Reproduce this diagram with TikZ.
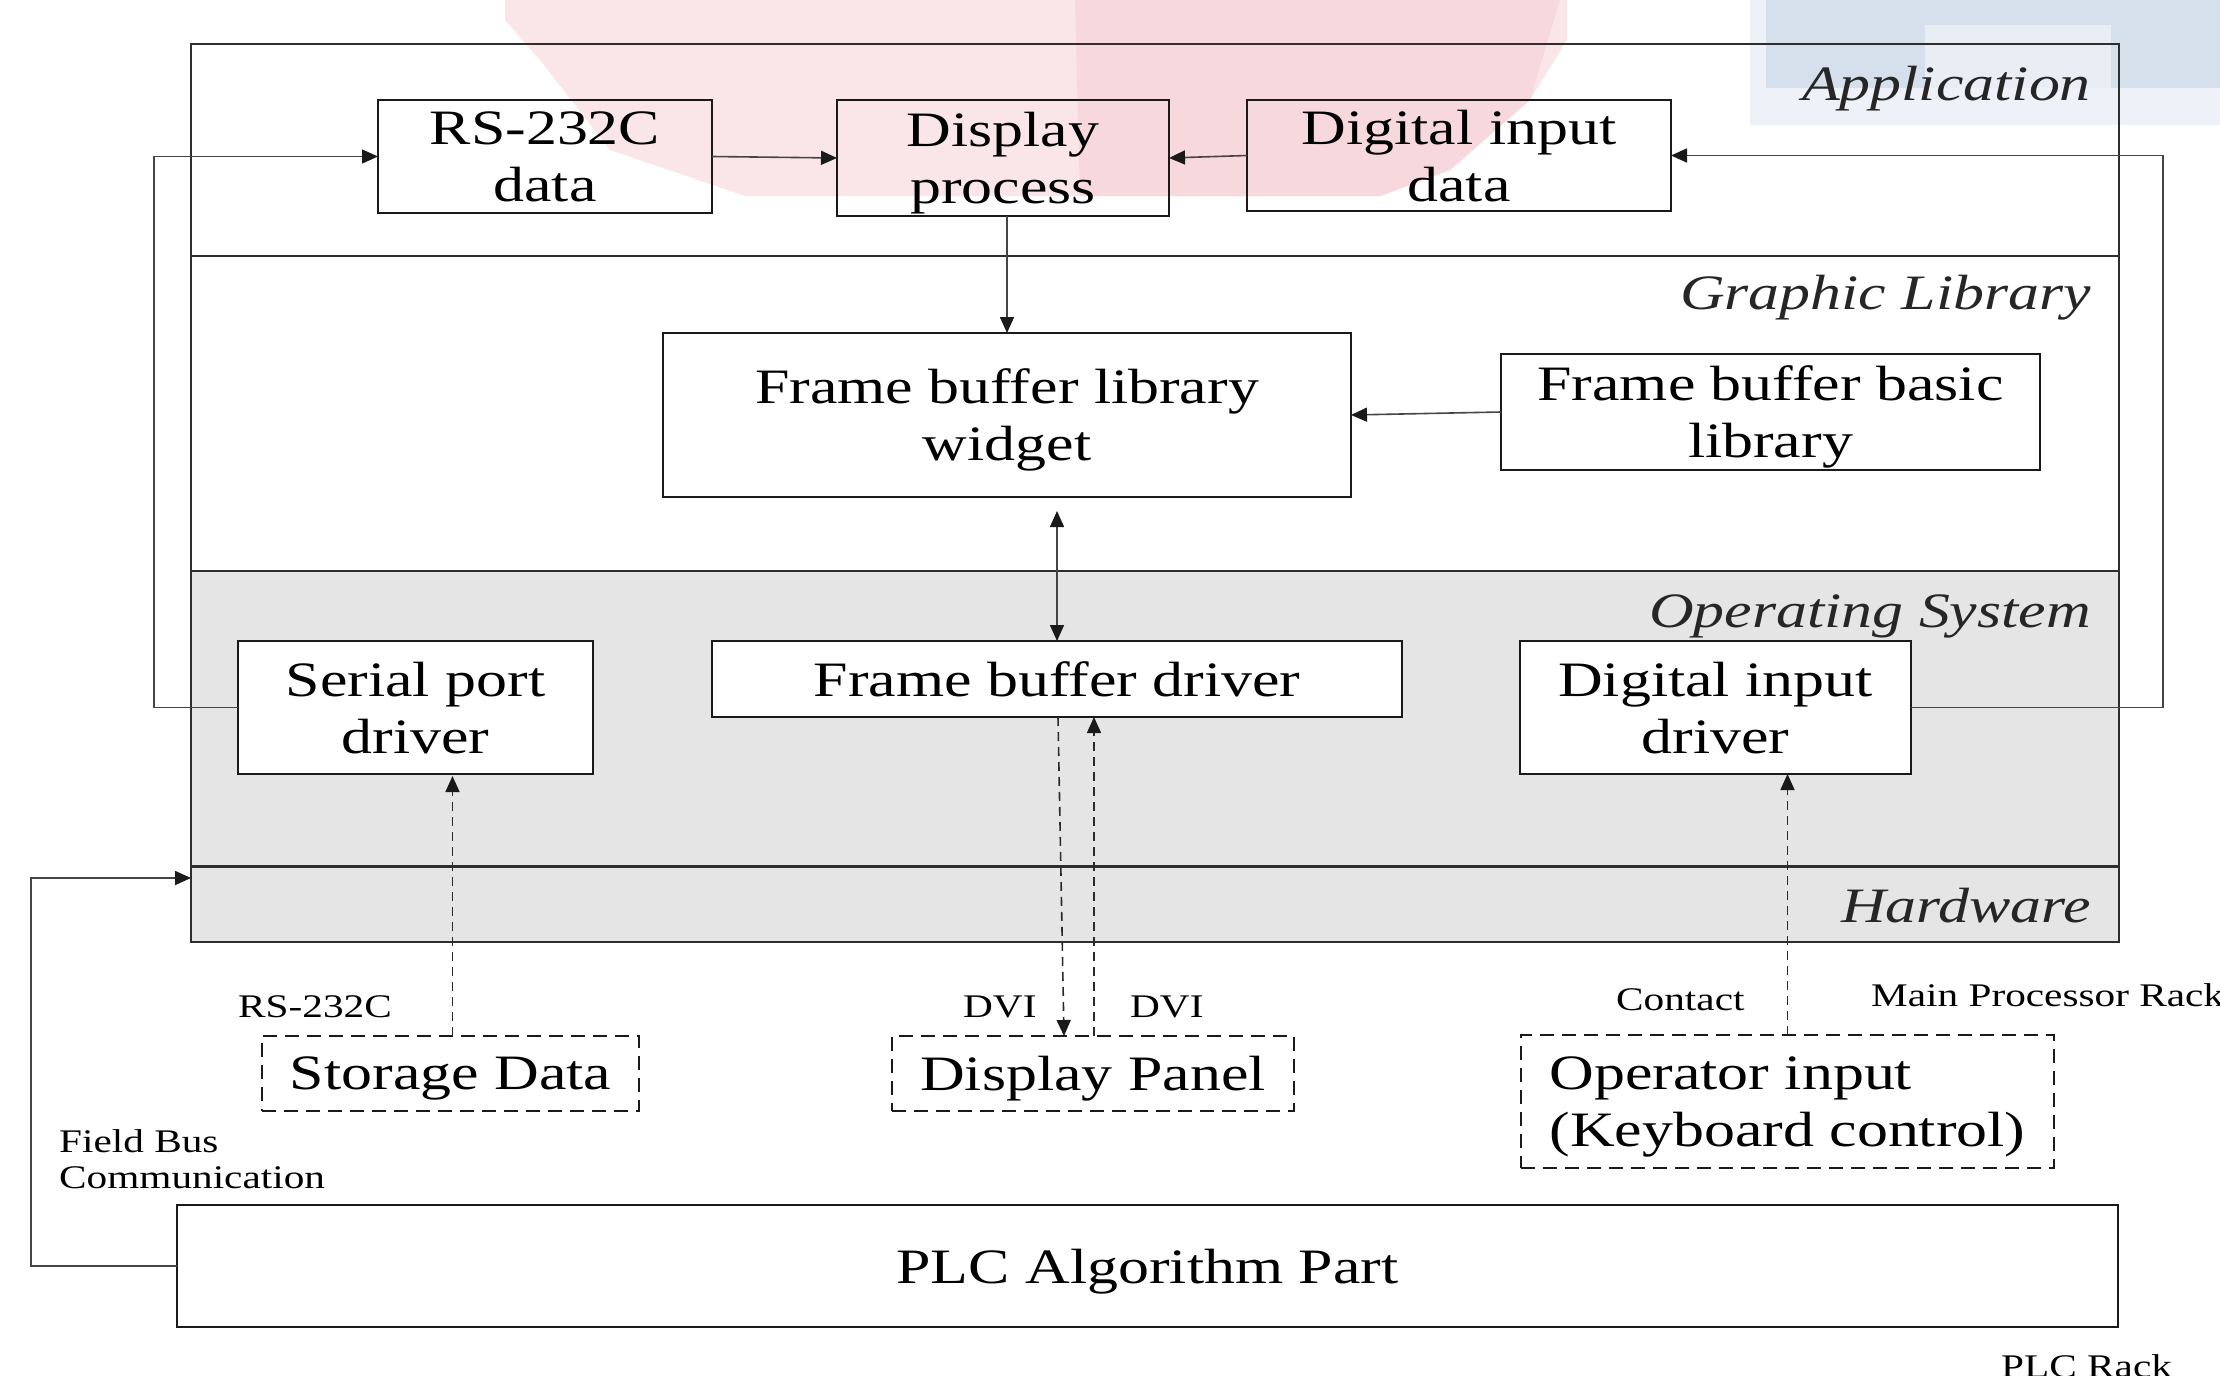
\documentclass[tikz,border=0pt]{standalone}
\usepackage{fontspec}
\setmainfont{Liberation Serif}[FakeStretch=1.25]
\usetikzlibrary{arrows.meta,calc}
\definecolor{boxC}{HTML}{1A1A1A}
\definecolor{frameC}{HTML}{2E2E2E}
\definecolor{connC}{HTML}{454545}
\definecolor{dconnC}{HTML}{2A2A2A}
\definecolor{grayfill}{HTML}{E5E5E5}
\definecolor{pinkA}{HTML}{FAE6E8}
\definecolor{pinkB}{HTML}{F7D8DC}
\definecolor{blueA}{HTML}{EEF2F8}
\definecolor{blueB}{HTML}{D6DFEC}
\definecolor{blueC}{HTML}{E9EEF5}
\newcommand\boxfont{\fontsize{49.5}{57}\selectfont}
\newcommand\lblfont{\fontsize{33}{36}\selectfont}
\tikzset{
  box/.style={draw=boxC, line width=2.4pt, inner sep=0pt, outer sep=0pt, align=center, font=\boxfont, anchor=north west, text depth=0pt},
  wbox/.style={box, fill=white},
  dbox/.style={box, dash pattern=on 14pt off 8pt},
  layer/.style={draw=frameC, line width=2.6pt, inner sep=0pt, outer sep=0pt, anchor=north west, minimum width=1928pt},
  layername/.style={font=\boxfont\itshape, inner sep=0pt, anchor=base east, text=black!85},
  lbl/.style={font=\lblfont, inner sep=0pt, anchor=base west},
  tip/.style={-{Triangle[length=16pt,width=14pt,color=boxC]}},
  conn/.style={draw=connC, line width=1.6pt, tip},
  dconn/.style={draw=dconnC, line width=1.6pt, dash pattern=on 9pt off 6pt, tip},
}
\begin{document}
\begin{tikzpicture}[x=1pt,y=-1pt]
\useasboundingbox (0,0) rectangle (2220,1376);
\fill[white] (0,0) rectangle (2220,1376);
% background blots
\fill[pinkA] (505,0) -- (1567,0) -- (1567,40) -- (1530,100) -- (1450,170) -- (1380,196) -- (745,196) -- (610,150) -- (540,60) -- (505,20) -- cycle;
\fill[pinkB] (1075,0) -- (1560,0) -- (1530,100) -- (1450,170) -- (1380,196) -- (1080,196) -- cycle;
\fill[blueA] (1750,0) rectangle (2220,125);
\fill[blueB] (1766,0) rectangle (2220,88);
\fill[blueC] (1925,25) rectangle (2111,88);
% layers
\node[layer, minimum height=212pt] (app) at (191,44) {};
\node[layer, minimum height=315pt] (gl) at (191,256) {};
\node[layer, fill=grayfill, minimum height=295.5pt] (os) at (191,571) {};
\node[layer, fill=grayfill, minimum height=75.5pt] (hw) at (191,866.5) {};
\node[layername] (appl) at (2091,100) {Application};
\node[layername] (gll) at (2091,309) {Graphic Library};
\node[layername] (osl) at (2091,627) {Operating System};
\node[layername] (hwl) at (2091,922) {Hardware};
% boxes
\node[box, minimum width=334pt, minimum height=113pt] (rs) at (378,100) {RS-232C\\data};
\node[box, minimum width=332pt, minimum height=116pt] (disp) at (837,100) {Display\\process};
\node[box, minimum width=424pt, minimum height=111pt] (dind) at (1247,100) {Digital input\\data};
\node[box, minimum width=688pt, minimum height=164pt] (fbw) at (663,333) {Frame buffer library\\widget};
\node[box, minimum width=539pt, minimum height=116pt] (fbb) at (1501,354) {Frame buffer basic\\library};
\node[wbox, minimum width=355pt, minimum height=133pt] (spd) at (238,641) {Serial port\\driver};
\node[wbox, minimum width=690pt, minimum height=76pt] (fbd) at (712,641) {Frame buffer driver};
\node[wbox, minimum width=391pt, minimum height=133pt] (did) at (1520,641) {Digital input\\driver};
\node[dbox, minimum width=377pt, minimum height=75pt] (sto) at (262,1036) {Storage Data};
\node[dbox, minimum width=402pt, minimum height=75pt] (dpn) at (892,1036) {Display Panel};
\node[dbox, minimum width=533pt, minimum height=133pt, align=left] (opi) at (1521,1035) {Operator input\\(Keyboard control)};
\node[box, minimum width=1941pt, minimum height=122pt] (plc) at (177,1205) {PLC Algorithm Part};
% small labels
\node[lbl] (l1) at (238,1017) {RS-232C};
\node[lbl] (l2) at (963,1017) {DVI};
\node[lbl] (l3) at (1130,1017) {DVI};
\node[lbl] (l4) at (1616,1010) {Contact};
\node[lbl] (l5) at (1871,1006) {Main Processor Rack};
\node[lbl] (l6) at (59,1152) {Field Bus};
\node[lbl] (l7) at (59,1188) {Communication};
\node[lbl] (l8) at (2001,1377) {PLC Rack};
% connectors
\draw[conn] (spd.west) -- ++(-84,0) |- (rs.west);
\draw[conn] (rs.east) -- (disp.west);
\draw[conn] (dind.west) -- (disp.east);
\draw[conn] (did.east) -- ++(252,0) |- (dind.east);
\draw[conn] ([xshift=4pt]disp.south) -- ([xshift=4pt]disp.south |- fbw.north);
\draw[conn] (fbb.west) -- (fbw.east);
\draw[conn, {Triangle[length=16pt,width=14pt,color=boxC]}-{Triangle[length=16pt,width=14pt,color=boxC]}, shorten <=14pt] (fbd.north |- fbw.south) -- (fbd.north);
\draw[dconn, shorten >=2pt] ([xshift=2pt]sto.north) -- ([xshift=2pt]sto.north |- spd.south);
\draw[dconn] ([xshift=1pt]fbd.south) -- ([xshift=-29pt]dpn.north);
\draw[dconn] ([xshift=1pt]dpn.north) -- ([xshift=1pt]dpn.north |- fbd.south);
\draw[dconn] (opi.north) -- (opi.north |- did.south);
\coordinate (fbin) at ([yshift=-11.5pt]hw.north west);
\draw[conn] (plc.west) -- ++(-146,0) |- (fbin);
\end{tikzpicture}
\end{document}
